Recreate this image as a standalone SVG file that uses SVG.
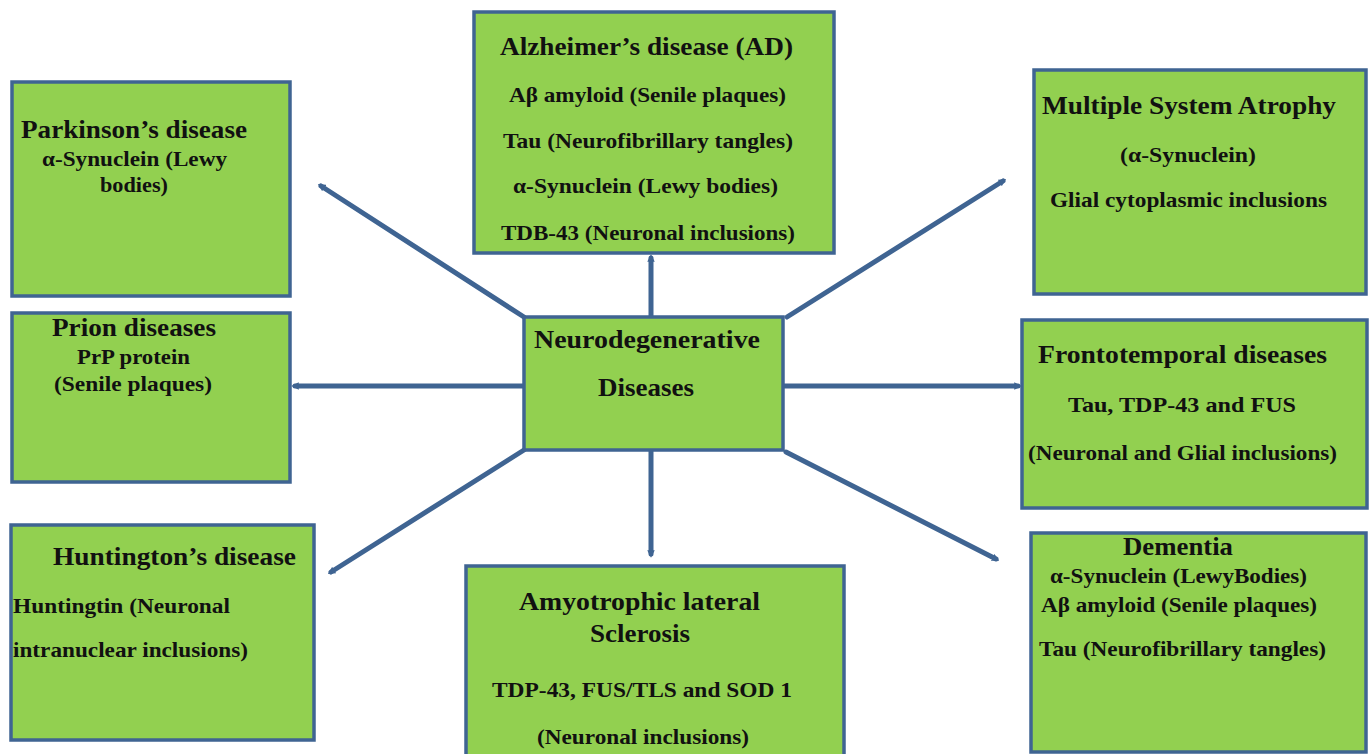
<svg xmlns="http://www.w3.org/2000/svg" width="1371" height="754" viewBox="0 0 1371 754">
<style>
.box{fill:#92d050;stroke:#3f6492;stroke-width:3.5}
.t{font-family:"Liberation Serif","Times New Roman",serif;font-weight:bold;fill:#111}
.h{font-size:25px}
.b{font-size:21px}
.c{stroke:#3f6492;stroke-width:5;fill:none;stroke-linecap:round;marker-end:url(#ah)}
</style>
<defs>
<marker id="ah" viewBox="0 0 10 10" refX="5" refY="5" markerWidth="1.5" markerHeight="1.5" orient="auto" markerUnits="strokeWidth">
<path d="M0,0 L10,5 L0,10 z" fill="#3f6492"/>
</marker>
</defs>
<rect width="1371" height="754" fill="#fff"/>
<g id="connectors">
<line class="c" x1="524" y1="317" x2="321" y2="186"/>
<line class="c" x1="651" y1="317" x2="651" y2="258"/>
<line class="c" x1="787" y1="317" x2="1003" y2="181"/>
<line class="c" x1="524" y1="386" x2="295" y2="386"/>
<line class="c" x1="783" y1="386" x2="1018" y2="386"/>
<line class="c" x1="524" y1="450" x2="331" y2="572"/>
<line class="c" x1="651" y1="450" x2="651" y2="554"/>
<line class="c" x1="786" y1="452" x2="996" y2="559"/>
</g>
<g id="center">
<rect class="box" x="524" y="317" width="259" height="133"/>
<text class="t h" x="534" y="348" textLength="226" lengthAdjust="spacingAndGlyphs">Neurodegenerative</text>
<text class="t h" x="598" y="396" textLength="96" lengthAdjust="spacingAndGlyphs">Diseases</text>
</g>
<g id="parkinson">
<rect class="box" x="12" y="82" width="278" height="214"/>
<text class="t h" x="21" y="138" textLength="226" lengthAdjust="spacingAndGlyphs">Parkinson’s disease</text>
<text class="t b" x="42" y="166" textLength="185" lengthAdjust="spacingAndGlyphs">α-Synuclein (Lewy</text>
<text class="t b" x="100" y="192" textLength="68" lengthAdjust="spacingAndGlyphs">bodies)</text>
</g>
<g id="alzheimer">
<rect class="box" x="474" y="12" width="360" height="241"/>
<text class="t h" x="500" y="55" textLength="293" lengthAdjust="spacingAndGlyphs">Alzheimer’s disease (AD)</text>
<text class="t b" x="509" y="102" textLength="277" lengthAdjust="spacingAndGlyphs">Aβ amyloid (Senile plaques)</text>
<text class="t b" x="503" y="148" textLength="290" lengthAdjust="spacingAndGlyphs">Tau (Neurofibrillary tangles)</text>
<text class="t b" x="513" y="193" textLength="265" lengthAdjust="spacingAndGlyphs">α-Synuclein (Lewy bodies)</text>
<text class="t b" x="501" y="240" textLength="294" lengthAdjust="spacingAndGlyphs">TDB-43 (Neuronal inclusions)</text>
</g>
<g id="msa">
<rect class="box" x="1034" y="70" width="332" height="224"/>
<text class="t h" x="1042" y="114" textLength="294" lengthAdjust="spacingAndGlyphs">Multiple System Atrophy</text>
<text class="t b" x="1120" y="162" textLength="136" lengthAdjust="spacingAndGlyphs">(α-Synuclein)</text>
<text class="t b" x="1050" y="207" textLength="277" lengthAdjust="spacingAndGlyphs">Glial cytoplasmic inclusions</text>
</g>
<g id="prion">
<rect class="box" x="12" y="313" width="278" height="169"/>
<text class="t h" x="52" y="336" textLength="164" lengthAdjust="spacingAndGlyphs">Prion diseases</text>
<text class="t b" x="77" y="364" textLength="113" lengthAdjust="spacingAndGlyphs">PrP protein</text>
<text class="t b" x="54" y="391" textLength="158" lengthAdjust="spacingAndGlyphs">(Senile plaques)</text>
</g>
<g id="frontotemporal">
<rect class="box" x="1022" y="320" width="345" height="188"/>
<text class="t h" x="1038" y="363" textLength="289" lengthAdjust="spacingAndGlyphs">Frontotemporal diseases</text>
<text class="t b" x="1068" y="412" textLength="228" lengthAdjust="spacingAndGlyphs">Tau, TDP-43 and FUS</text>
<text class="t b" x="1028" y="460" textLength="309" lengthAdjust="spacingAndGlyphs">(Neuronal and Glial inclusions)</text>
</g>
<g id="huntington">
<rect class="box" x="11" y="525" width="303" height="215"/>
<text class="t h" x="53" y="565" textLength="243" lengthAdjust="spacingAndGlyphs">Huntington’s disease</text>
<text class="t b" x="13" y="613" textLength="217" lengthAdjust="spacingAndGlyphs">Huntingtin (Neuronal</text>
<text class="t b" x="13" y="657" textLength="235" lengthAdjust="spacingAndGlyphs">intranuclear inclusions)</text>
</g>
<g id="als">
<rect class="box" x="466" y="566" width="378" height="200"/>
<text class="t h" x="519" y="610" textLength="241" lengthAdjust="spacingAndGlyphs">Amyotrophic lateral</text>
<text class="t h" x="590" y="642" textLength="100" lengthAdjust="spacingAndGlyphs">Sclerosis</text>
<text class="t b" x="492" y="697" textLength="300" lengthAdjust="spacingAndGlyphs">TDP-43, FUS/TLS and SOD 1</text>
<text class="t b" x="537" y="744" textLength="212" lengthAdjust="spacingAndGlyphs">(Neuronal inclusions)</text>
</g>
<g id="dementia">
<rect class="box" x="1031" y="533" width="335" height="219"/>
<text class="t h" x="1123" y="555" textLength="110" lengthAdjust="spacingAndGlyphs">Dementia</text>
<text class="t b" x="1050" y="583" textLength="257" lengthAdjust="spacingAndGlyphs">α-Synuclein (LewyBodies)</text>
<text class="t b" x="1041" y="612" textLength="276" lengthAdjust="spacingAndGlyphs">Aβ amyloid (Senile plaques)</text>
<text class="t b" x="1039" y="656" textLength="287" lengthAdjust="spacingAndGlyphs">Tau (Neurofibrillary tangles)</text>
</g>
</svg>
